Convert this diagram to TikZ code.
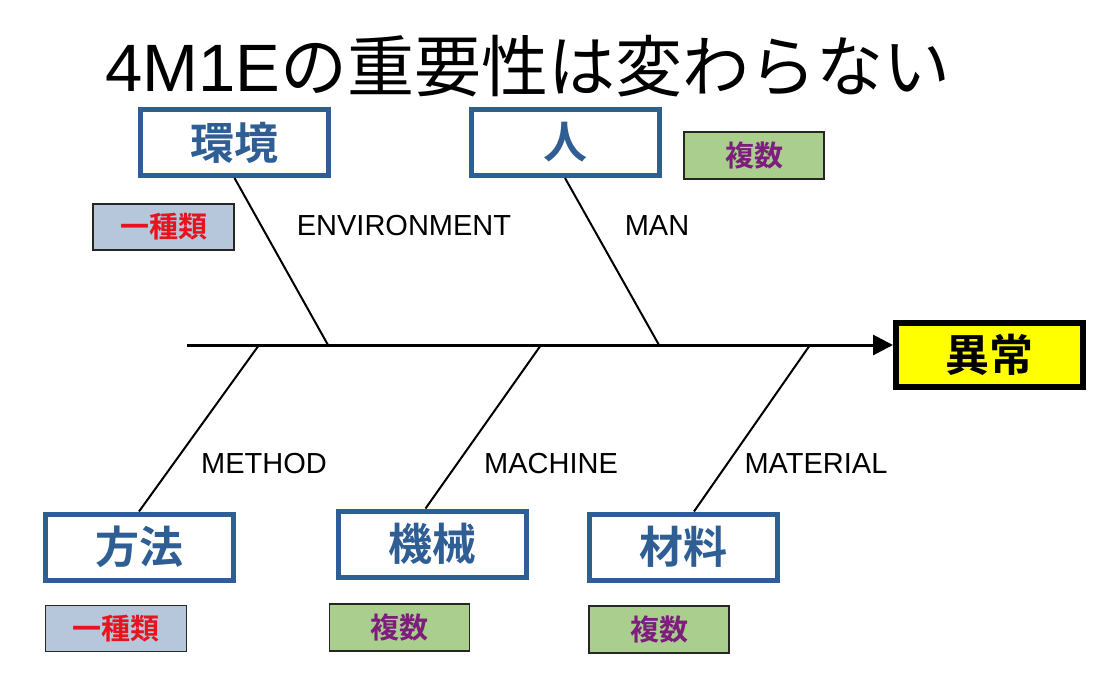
\documentclass[tikz,border=0pt]{standalone}
\usepackage{fontspec}
\setmainfont{Liberation Sans}
\newfontfamily\cjk{Noto Sans CJK JP}
\newfontfamily\cjkbold{Noto Sans CJK JP Bold}
\usetikzlibrary{arrows.meta}
\definecolor{boxblue}{RGB}{47,94,148}
\definecolor{txtred}{RGB}{230,20,30}
\definecolor{txtpurple}{RGB}{125,30,125}
\definecolor{fillgreen}{RGB}{170,206,142}
\definecolor{fillgray}{RGB}{182,199,220}
\definecolor{fillyellow}{RGB}{255,255,0}
\tikzset{
  catbox/.style={draw=boxblue, line width=5pt, fill=white, minimum width=188pt, minimum height=66pt, inner sep=0pt,
    font=\cjkbold\fontsize{44}{48}\selectfont, text=boxblue},
  effbox/.style={draw=black, line width=6pt, fill=fillyellow, minimum width=187pt, minimum height=64pt, inner sep=0pt,
    font=\cjkbold\fontsize{44}{48}\selectfont, text=black},
  onebox/.style={draw=black!85, line width=1.8pt, fill=fillgray, minimum width=141pt, minimum height=46pt, inner sep=0pt,
    font=\cjkbold\fontsize{29}{32}\selectfont, text=txtred},
  manybox/.style={draw=black!85, line width=1.8pt, fill=fillgreen, minimum width=140pt, minimum height=47pt, inner sep=0pt,
    font=\cjkbold\fontsize{29}{32}\selectfont, text=txtpurple},
  lbl/.style={font=\fontsize{29}{32}\selectfont, inner sep=0pt},
  bone/.style={line width=2pt, draw=black},
  spine/.style={line width=3pt, draw=black, -{Triangle[length=20pt,width=20pt]}}
}
\begin{document}
\begin{tikzpicture}[x=1pt,y=-1pt]
\useasboundingbox (0,0) rectangle (1119,691);
\fill[white] (0,0) rectangle (1119,691);
% title
\node[inner sep=0pt] (title) at (528,66) {\fontsize{67}{70}\selectfont 4M1E{\cjk の重要性は変わらない}};
% effect
\node[effbox] (eff) at (989.5,355) {異常};
% spine
\coordinate (tail) at (187,345);
\draw[spine] (tail) -- (tail -| eff.west);
% spine points
\coordinate (p1) at (328,345);
\coordinate (p2) at (659,345);
\coordinate (p3) at (259,345);
\coordinate (p4) at (541,345);
\coordinate (p5) at (810,345);
% category boxes
\node[catbox] (env) at (234.5,142.5) {環境};
\node[catbox] (man) at (565,142.5) {人};
\node[catbox] (met) at (139,547) {方法};
\node[catbox] (mac) at (432.5,544) {機械};
\node[catbox] (mat) at (683,547) {材料};
% bones
\draw[bone] (env.south) -- (p1);
\draw[bone] (man.south) -- (p2);
\draw[bone] (p3) -- (met.north);
\draw[bone] (p4) -- ([xshift=-7pt]mac.north);
\draw[bone] (p5) -- ([xshift=11pt]mat.north);
% labels
\node[lbl] (lenv) at (404,226) {ENVIRONMENT};
\node[lbl] (lman) at (657,226) {MAN};
\node[lbl] (lmet) at (264,464) {METHOD};
\node[lbl] (lmac) at (551,464) {MACHINE};
\node[lbl] (lmat) at (816,464) {MATERIAL};
% tags
\node[manybox] (t1) at (754,155.5) {複数};
\node[onebox] (t2) at (163.5,227) {一種類};
\node[onebox] (t3) at (116,628.5) {一種類};
\node[manybox] (t4) at (399.5,627.5) {複数};
\node[manybox] (t5) at (659,629.5) {複数};
\end{tikzpicture}
\end{document}
